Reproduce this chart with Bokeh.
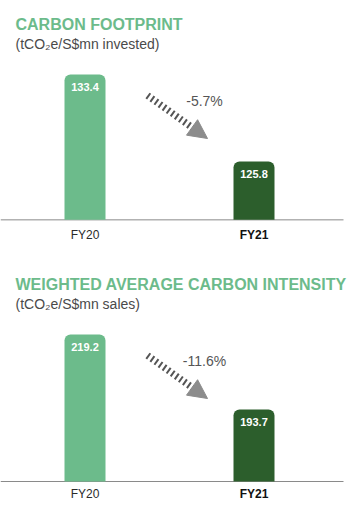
from bokeh.plotting import figure
from bokeh.models import ColumnDataSource, Label, Arrow, NormalHead, Range1d
from bokeh.layouts import column
from bokeh.embed import file_html
from bokeh.resources import INLINE
from bokeh.core.properties import value

# ---- data ----
categories = ["FY20", "FY21"]
fp_values = [133.4, 125.8]
wi_values = [219.2, 193.7]
fp_change = "-5.7%"
wi_change = "-11.6%"
titles = ["CARBON FOOTPRINT", "WEIGHTED AVERAGE CARBON INTENSITY"]
subtitles = ["(tCO\u2082e/S$mn invested)", "(tCO\u2082e/S$mn sales)"]
cat_styles = ["normal", "bold"]
cat_colors = ["#2a2a2a", "#111111"]

# axis (scale) settings: baseline value and visible range
fp_base, fp_range = 120.7, (117.15, 139.86)
wi_base, wi_range = 169.2, (156.96, 244.34)

LIGHT = "#6cbb8b"
DARK = "#2c5e2c"
FONT = value("Liberation Sans")
W = 355


def make_panel(vals, change, title, subtitle, base, yr, H, cat_py):
    xr0, xr1 = -0.5, -0.5 + W / 169.0
    yr0, yr1 = yr
    p = figure(width=W, height=H, x_range=Range1d(xr0, xr1), y_range=Range1d(yr0, yr1),
               x_axis_type=None, y_axis_type=None, toolbar_location=None,
               output_backend="svg", min_border=0, outline_line_color=None,
               background_fill_color="white", border_fill_color="white")
    p.grid.visible = False

    def xd(px):
        return xr0 + px * (xr1 - xr0) / W

    def yd(py):
        return yr1 - py * (yr1 - yr0) / H

    per_px = (yr1 - yr0) / H
    src = ColumnDataSource(dict(
        x=list(range(len(categories))),
        cat=categories,
        top=vals,
        label=["%.1f" % v for v in vals],
        label_y=[v - 13 * per_px for v in vals],
        color=[LIGHT, DARK],
        cat_y=[yd(cat_py)] * len(categories),
        cstyle=cat_styles,
        ccolor=cat_colors,
    ))

    # baseline
    p.segment(x0=[xd(0)], x1=[xd(343)], y0=[base], y1=[base], line_color="#8a8a8a", line_width=1)

    p.vbar(x="x", top="top", bottom=base, width=41 / 169.0, fill_color="color",
           line_color=None, border_radius=(6, 6, 0, 0), source=src)

    p.text(x="x", y="label_y", text="label", text_color="white", text_font=FONT,
           text_font_size="11px", text_font_style="bold", text_align="center",
           text_baseline="middle", source=src)

    p.text(x="x", y="cat_y", text="cat", text_color="ccolor", text_font=FONT,
           text_font_size="12px", text_font_style="cstyle", text_align="center",
           text_baseline="middle", source=src)

    p.add_layout(Label(x=xd(15), y=yd(24), text=title, text_font="Liberation Sans",
                       text_font_size="16px", text_font_style="bold", text_color=LIGHT,
                       text_baseline="middle", text_align="left"))
    p.add_layout(Label(x=xd(15), y=yd(43), text=subtitle, text_font="Liberation Sans",
                       text_font_size="14px", text_color="#4a4a4a",
                       text_baseline="middle", text_align="left"))

    p.add_layout(Arrow(end=NormalHead(size=19, fill_color="#8c8c8c", line_color="#8c8c8c"),
                       x_start=xd(147), y_start=yd(95), x_end=xd(207), y_end=yd(138),
                       line_color="#555555", line_width=7, line_dash="2 3"))

    p.add_layout(Label(x=xd(204), y=yd(100), text=change, text_font="Liberation Sans",
                       text_font_size="14px", text_color="#555555",
                       text_baseline="middle", text_align="center"))
    return p


p1 = make_panel(fp_values, fp_change, titles[0], subtitles[0], fp_base, fp_range, 260, 234)
p2 = make_panel(wi_values, wi_change, titles[1], subtitles[1], wi_base, wi_range, 257, 233)

layout = column(p1, p2, spacing=0)
open("out.html", "w").write(file_html(layout, INLINE))
